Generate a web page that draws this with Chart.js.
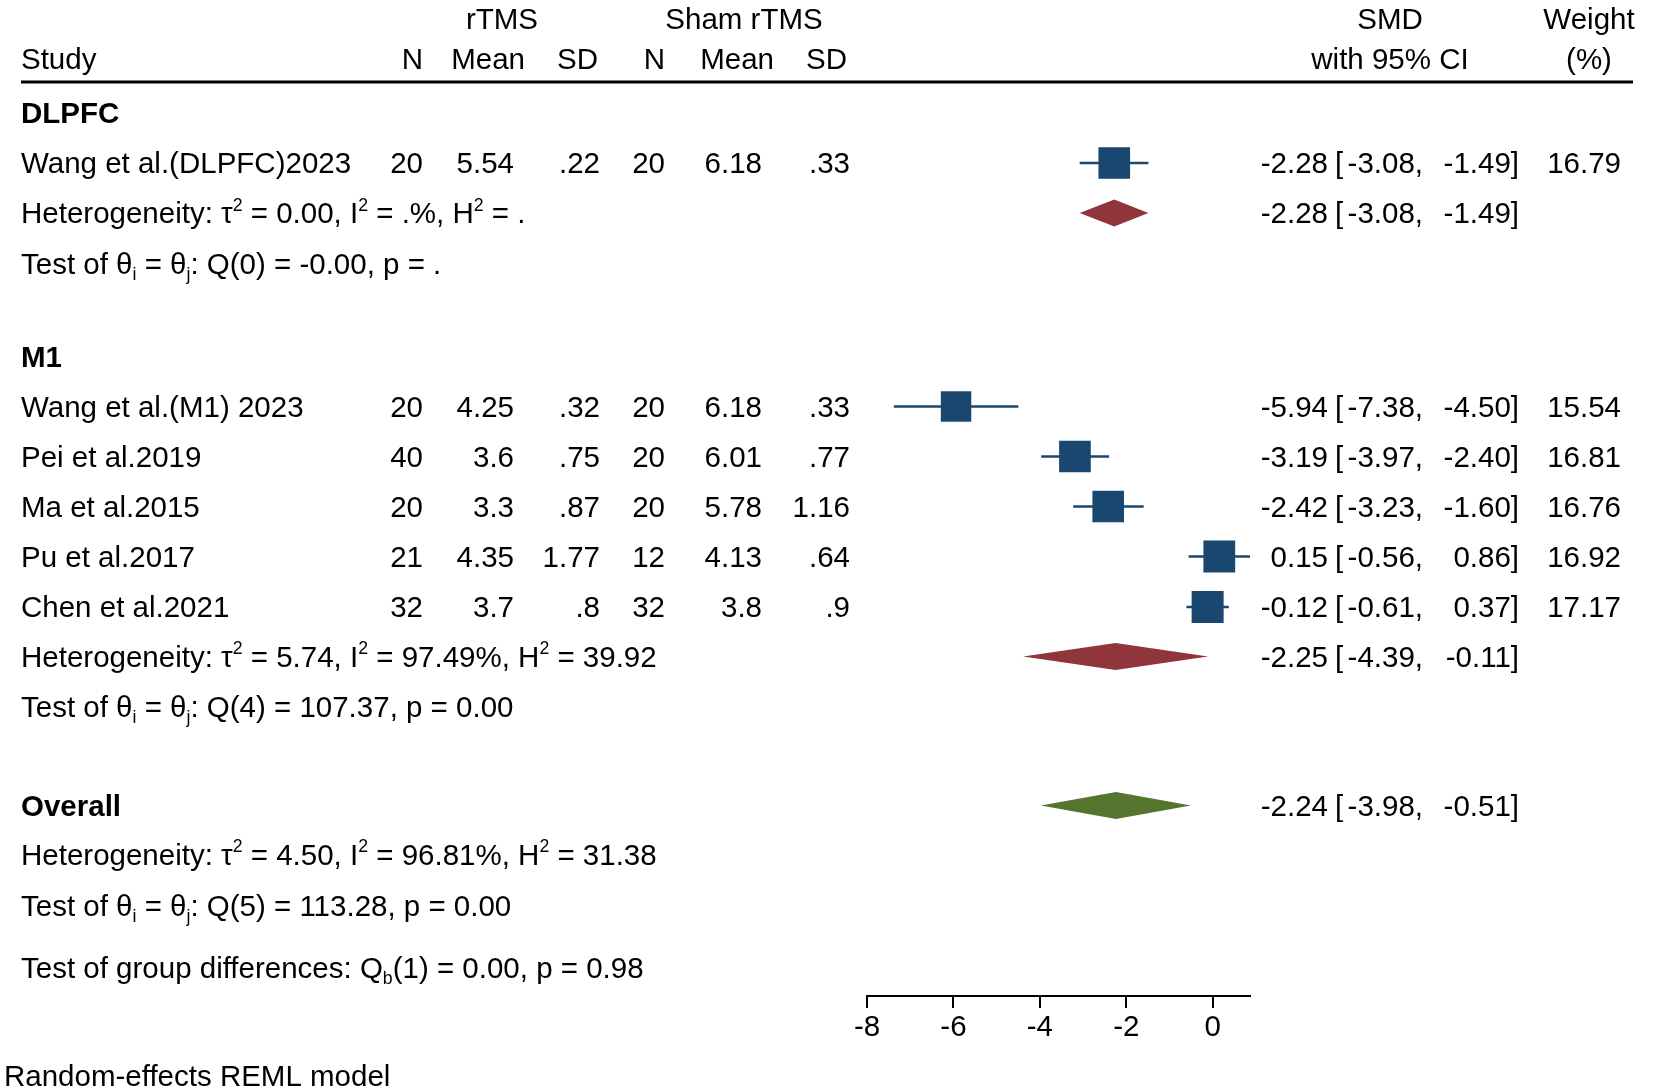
<!DOCTYPE html>
<html>
<head>
<meta charset="utf-8">
<script src="https://cdn.jsdelivr.net/npm/chart.js@4.4.0/dist/chart.umd.min.js"></script>
<style>
  html, body { margin: 0; padding: 0; background: #fff; }
  #wrap { width: 1654px; height: 1092px; position: relative; }
</style>
</head>
<body>
<div id="wrap"><canvas id="forest"></canvas></div>
<script>
// study level data
const studies = ["Wang et al.(DLPFC)2023", "Wang et al.(M1) 2023", "Pei et al.2019", "Ma et al.2015", "Pu et al.2017", "Chen et al.2021"];
const tN = ["20", "20", "40", "20", "21", "32"];
const tMean = ["5.54", "4.25", "3.6", "3.3", "4.35", "3.7"];
const tSD = [".22", ".32", ".75", ".87", "1.77", ".8"];
const cN = ["20", "20", "20", "20", "12", "32"];
const cMean = ["6.18", "6.18", "6.01", "5.78", "4.13", "3.8"];
const cSD = [".33", ".33", ".77", "1.16", ".64", ".9"];
const smd = [-2.28, -5.94, -3.19, -2.42, 0.15, -0.12];
const ciLow = [-3.08, -7.38, -3.97, -3.23, -0.56, -0.61];
const ciHigh = [-1.49, -4.50, -2.40, -1.60, 0.86, 0.37];
const weights = [16.79, 15.54, 16.81, 16.76, 16.92, 17.17];

// subgroup + overall summaries
const groupNames = ["DLPFC", "M1", "Overall"];
const sumEst = [-2.28, -2.25, -2.24];
const sumLow = [-3.08, -4.39, -3.98];
const sumHigh = [-1.49, -0.11, -0.51];
const tau2 = ["0.00", "5.74", "4.50"];
const i2 = [".%", "97.49%", "96.81%"];
const h2 = [".", "39.92", "31.38"];
const qDf = ["0", "4", "5"];
const qVal = ["-0.00", "107.37", "113.28"];
const qP = [".", "0.00", "0.00"];
const groupDiff = { df: "1", q: "0.00", p: "0.98" };

// row layout (row units, top to bottom; blank rows are a bit shorter)
const groupRows = [0, 4.88, 13.85];
const studyRows = [1, 5.87, 6.87, 7.87, 8.87, 9.88];
const hetRows = [2, 10.87, 14.83];
const testRows = [3.02, 11.88, 15.85];
const diamondRows = [2, 10.87, 13.85];
const groupDiffRow = 17.1;

const xTicks = [-8, -6, -4, -2, 0];

const FONT = '"Liberation Sans", Arial, Helvetica, sans-serif';
const FS = 29.5;
const NAVY = "#1a476f";
const diamondColors = ["#90353b", "#90353b", "#55752f"];

// square side proportional to sqrt(weight)
const maxW = Math.max(...weights);
const sqRadius = weights.map((w) => (32 * Math.sqrt(w / maxW)) / Math.SQRT2);

const ciDatasets = studies.map((s, i) => ({
  type: "scatter",
  label: s + " CI",
  data: [{ x: ciLow[i], y: studyRows[i] }, { x: ciHigh[i], y: studyRows[i] }],
  showLine: true,
  borderColor: NAVY,
  borderWidth: 2.5,
  pointRadius: 0,
  order: 2,
}));

const squares = {
  type: "scatter",
  label: "SMD",
  data: smd.map((v, i) => ({ x: v, y: studyRows[i] })),
  pointStyle: "rect",
  pointRadius: sqRadius,
  backgroundColor: NAVY,
  borderWidth: 0,
  order: 1,
};

// draw a string made of parts, some of them super/subscript
const drawRich = (ctx, parts, x, base) => {
  let cx = x;
  parts.forEach((p) => {
    if (typeof p === "string") {
      ctx.font = `${FS}px ${FONT}`;
      ctx.fillText(p, cx, base);
      cx += ctx.measureText(p).width;
    } else {
      ctx.font = `${FS * 0.6}px ${FONT}`;
      const dy = p.sup ? -FS * 0.42 : FS * 0.2;
      ctx.fillText(p.t, cx, base + dy);
      cx += ctx.measureText(p.t).width;
    }
  });
};

const diamondPlugin = {
  id: "diamonds",
  afterDatasetsDraw(chart) {
    const { ctx, scales } = chart;
    const half = 0.27;
    sumEst.forEach((est, i) => {
      const r = diamondRows[i];
      ctx.save();
      ctx.beginPath();
      ctx.moveTo(scales.x.getPixelForValue(sumLow[i]), scales.y.getPixelForValue(r));
      ctx.lineTo(scales.x.getPixelForValue(est), scales.y.getPixelForValue(r - half));
      ctx.lineTo(scales.x.getPixelForValue(sumHigh[i]), scales.y.getPixelForValue(r));
      ctx.lineTo(scales.x.getPixelForValue(est), scales.y.getPixelForValue(r + half));
      ctx.closePath();
      ctx.fillStyle = diamondColors[i];
      ctx.fill();
      ctx.restore();
    });
  },
};

const tablePlugin = {
  id: "forestTable",
  afterDraw(chart) {
    const { ctx } = chart;
    const ys = chart.scales.y;
    const base = (row) => ys.getPixelForValue(row) + FS * 0.35;
    const txt = (s, x, row, align, bold) => {
      ctx.font = `${bold ? "bold " : ""}${FS}px ${FONT}`;
      ctx.textAlign = align;
      ctx.fillText(s, x, base(row));
    };
    const ciText = (est, lo, hi, row) => {
      txt(est.toFixed(2), 1328, row, "right");
      txt("[", 1335, row, "left");
      txt(lo.toFixed(2) + ",", 1423, row, "right");
      txt(hi.toFixed(2) + "]", 1519, row, "right");
    };

    ctx.save();
    ctx.fillStyle = "#000";
    ctx.textBaseline = "alphabetic";

    // header
    txt("rTMS", 502, -1.88, "center");
    txt("Sham rTMS", 744, -1.88, "center");
    txt("SMD", 1390, -1.88, "center");
    txt("Weight", 1589, -1.88, "center");
    txt("Study", 21, -1.08, "left");
    txt("N", 423, -1.08, "right");
    txt("Mean", 525, -1.08, "right");
    txt("SD", 598, -1.08, "right");
    txt("N", 665, -1.08, "right");
    txt("Mean", 774, -1.08, "right");
    txt("SD", 847, -1.08, "right");
    txt("with 95% CI", 1390, -1.08, "center");
    txt("(%)", 1589, -1.08, "center");

    ctx.strokeStyle = "#000";
    ctx.lineWidth = 3;
    ctx.beginPath();
    ctx.moveTo(21, ys.getPixelForValue(-0.62));
    ctx.lineTo(1633, ys.getPixelForValue(-0.62));
    ctx.stroke();

    // group titles
    groupNames.forEach((g, i) => txt(g, 21, groupRows[i], "left", true));

    // studies
    studies.forEach((s, i) => {
      const r = studyRows[i];
      txt(s, 21, r, "left");
      txt(tN[i], 423, r, "right");
      txt(tMean[i], 514, r, "right");
      txt(tSD[i], 600, r, "right");
      txt(cN[i], 665, r, "right");
      txt(cMean[i], 762, r, "right");
      txt(cSD[i], 850, r, "right");
      ciText(smd[i], ciLow[i], ciHigh[i], r);
      txt(weights[i].toFixed(2), 1621, r, "right");
    });

    // summaries
    sumEst.forEach((e, i) => ciText(e, sumLow[i], sumHigh[i], diamondRows[i]));

    ctx.textAlign = "left";
    hetRows.forEach((r, i) => {
      drawRich(ctx, ["Heterogeneity: \u03c4", { t: "2", sup: true }, ` = ${tau2[i]}, I`, { t: "2", sup: true },
        ` = ${i2[i]}, H`, { t: "2", sup: true }, ` = ${h2[i]}`], 21, base(r));
    });
    testRows.forEach((r, i) => {
      drawRich(ctx, ["Test of \u03b8", { t: "i" }, " = \u03b8", { t: "j" }, `: Q(${qDf[i]}) = ${qVal[i]}, p = ${qP[i]}`], 21, base(r));
    });
    drawRich(ctx, ["Test of group differences: Q", { t: "b" }, `(${groupDiff.df}) = ${groupDiff.q}, p = ${groupDiff.p}`], 21, base(groupDiffRow));

    txt("Random-effects REML model", 4, 19.26, "left");
    ctx.restore();
  },
};

new Chart(document.getElementById("forest"), {
  type: "scatter",
  data: { datasets: [...ciDatasets, squares] },
  options: {
    responsive: true,
    maintainAspectRatio: false,
    animation: false,
    events: [],
    layout: { padding: { left: 867, right: 404, top: 63, bottom: 0 } },
    plugins: { legend: { display: false }, tooltip: { enabled: false } },
    scales: {
      x: {
        type: "linear",
        min: -8,
        max: 0.86,
        afterFit: (scale) => { scale.height = 96; },
        afterBuildTicks: (scale) => { scale.ticks = xTicks.map((v) => ({ value: v })); },
        border: { display: true, color: "#000", width: 2 },
        grid: { drawOnChartArea: false, drawTicks: true, tickLength: 12, color: "#000", lineWidth: 2 },
        ticks: { color: "#000", padding: 2, font: { family: FONT, size: FS }, maxRotation: 0 },
      },
      y: {
        type: "linear",
        display: false,
        reverse: true,
        min: -1,
        max: 17.66,
      },
    },
  },
  plugins: [diamondPlugin, tablePlugin],
});
</script>
</body>
</html>
